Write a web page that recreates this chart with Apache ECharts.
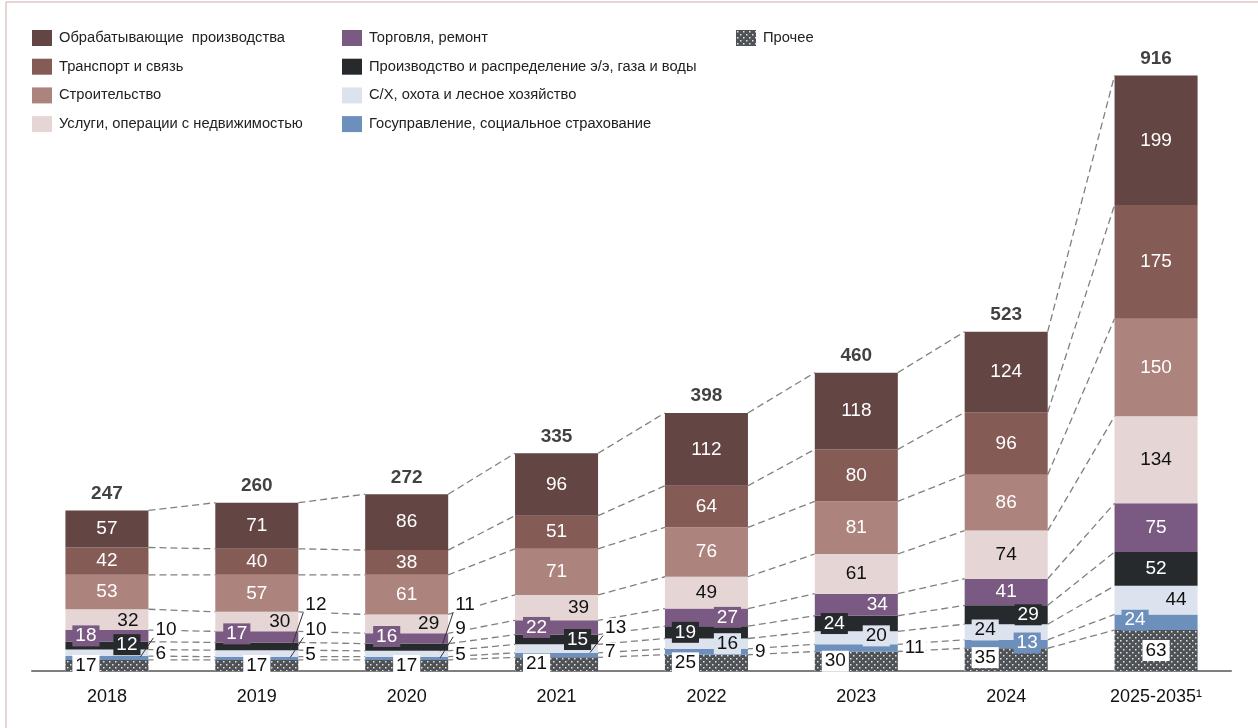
<!DOCTYPE html>
<html><head><meta charset="utf-8">
<script src="https://cdn.jsdelivr.net/npm/echarts@6/dist/echarts.min.js"></script>
<style>html,body{margin:0;padding:0;background:#fff}#c{width:1258px;height:728px}</style>
</head><body><div id="c"></div>
<script>
// ---------- DATA ----------
const CATEGORIES = ['2018','2019','2020','2021','2022','2023','2024','2025-2035\u00b9'];
const OTHER         = [17,17,17,21,25,30,35,63];
const GOV           = [6,5,5,7,9,11,13,24];
const AGRI          = [10,10,9,13,16,20,24,44];
const ENERGY        = [12,12,11,15,19,24,29,52];
const TRADE         = [18,17,16,22,27,34,41,75];
const SERVICES      = [32,30,29,39,49,61,74,134];
const CONSTRUCTION  = [53,57,61,71,76,81,86,150];
const TRANSPORT     = [42,40,38,51,64,80,96,175];
const MANUFACTURING = [57,71,86,96,112,118,124,199];
const TOTALS        = [247,260,272,335,398,460,523,916];

const NAMES = {
  other: 'Прочее',
  gov: 'Госуправление, социальное страхование',
  agri: 'С/Х, охота и лесное хозяйство',
  energy: 'Производство и распределение э/э, газа и воды',
  trade: 'Торговля, ремонт',
  services: 'Услуги, операции с недвижимостью',
  construction: 'Строительство',
  transport: 'Транспорт и связь',
  manufacturing: 'Обрабатывающие  производства'
};

// ---------- STYLE / LAYOUT ----------
const FONT = "'Liberation Sans', Arial, sans-serif";
const BAR_RATIO = 0.554;
const LABEL_SIZE = 19;

function makePattern() {
  const c = document.createElement('canvas');
  c.width = 6; c.height = 6;
  const g = c.getContext('2d');
  g.fillStyle = '#4f5357'; g.fillRect(0,0,6,6);
  g.fillStyle = '#e2e2e2';
  g.fillRect(1,1,1.5,1.5); g.fillRect(4,4,1.5,1.5);
  return c;
}
const PATTERN = { image: makePattern(), repeat: 'repeat' };

// bottom -> top
const STACK = [
  { key:'other', data: OTHER, color: PATTERN, box:'#ffffff', text:'#111' },
  { key:'gov', data: GOV, color:'#6d8fbc', box:'#6d8fbc', text:'#fff' },
  { key:'agri', data: AGRI, color:'#dce3ee', box:'#dce3ee', text:'#111' },
  { key:'energy', data: ENERGY, color:'#272a2d', box:'#272a2d', text:'#fff' },
  { key:'trade', data: TRADE, color:'#7a5a82', box:'#7a5a82', text:'#fff' },
  { key:'services', data: SERVICES, color:'#e5d6d5', box:'#e5d6d5', text:'#111' },
  { key:'construction', data: CONSTRUCTION, color:'#ad837e', box:'#ad837e', text:'#fff' },
  { key:'transport', data: TRANSPORT, color:'#855b56', box:'#855b56', text:'#fff' },
  { key:'manufacturing', data: MANUFACTURING, color:'#634543', box:'#634543', text:'#fff' }
];

// label placement per series / category: null = centred
const LABEL_LAYOUT = {
  other:  [{dx:-21,box:1},{box:1},{box:1},{dx:-20,box:1},{dx:-21,box:1},{dx:-21,box:1},{dx:-21,dy:-2,box:1},{box:1}],
  gov:    [{out:1,dy:-4},{out:1,dy:-4},{out:1,dy:-4},{out:1,dy:-3},{out:1,dy:0},{out:1,dy:0},{dx:21,dy:-1,box:1},{dx:-21,dy:-2,box:1}],
  agri:   [{out:1,dy:-23,lead:1},{out:1,dy:-24,lead:1},{out:1,dy:-25,lead:1},{out:1,dy:-21,lead:1},{dx:21,box:1},{dx:20,dy:-2,box:1},{dx:-21,dy:-2,box:1},{dx:20}],
  energy: [{dx:20,dy:-1,box:1},{out:1,dy:-42,lead:1},{out:1,dy:-43,lead:1},{dx:21,box:1},{dx:-21,box:1},{dx:-22,box:1},{dx:22,box:1},null],
  trade:  [{dx:-21,box:1},{dx:-20,dy:-3,box:1},{dx:-20,dy:-2,box:1},{dx:-20,box:1},{dx:21,box:1},{dx:21},null,null],
  services: [{dx:21,dy:1},{dx:23},{dx:22},{dx:22},null,null,null,null],
  construction: [null,null,null,null,null,null,null,null],
  transport: [null,null,null,null,null,null,null,null],
  manufacturing: [null,null,null,null,null,null,null,null]
};

function buildItem(s, v, lay) {
  const base = { show:true, fontFamily: FONT, fontSize: LABEL_SIZE, color: s.text };
  if (!lay) return { value: v, label: Object.assign(base, { position:'inside' }) };
  if (lay.out) {
    return { value: v, label: Object.assign(base, {
      position:'right', distance: 5, offset:[0, lay.dy || 0], color:'#111',
      backgroundColor:'#fff', padding:[0,2]
    })};
  }
  const l = Object.assign(base, { position:'inside', offset:[lay.dx || 0, lay.dy || 0] });
  if (lay.box) { l.backgroundColor = s.box; l.padding = [1,3]; }
  return { value: v, label: l };
}

const barSeries = STACK.map(s => ({
  name: NAMES[s.key],
  type: 'bar',
  stack: 'total',
  barWidth: (BAR_RATIO*100) + '%',
  z: 2,
  itemStyle: { color: s.color },
  emphasis: { disabled: true },
  data: s.data.map((v, i) => buildItem(s, v, LABEL_LAYOUT[s.key][i]))
}));

function cumAt(i, k) { let c = 0; for (let j = 0; j <= k; j++) c += STACK[j].data[i]; return c; }

const connectorSeries = {
  type: 'custom', z: 1, silent: true,
  data: CATEGORIES.slice(0, -1).map((c, i) => [i]),
  renderItem: function (params, api) {
    const i = api.value(0);
    const bw = api.size([1, 0])[0] * BAR_RATIO;
    const children = [];
    for (let k = 0; k < STACK.length; k++) {
      const a = api.coord([i, cumAt(i, k)]);
      const b = api.coord([i + 1, cumAt(i + 1, k)]);
      children.push({ type:'line', shape:{ x1:a[0]+bw/2, y1:a[1], x2:b[0]-bw/2, y2:b[1] },
        style:{ stroke:'#808080', lineWidth:1.3, lineDash:[7,4] } });
    }
    return { type:'group', children };
  }
};

const leaderSeries = {
  type: 'custom', z: 3, silent: true,
  data: CATEGORIES.map((c, i) => [i]),
  renderItem: function (params, api) {
    const i = api.value(0);
    const bw = api.size([1, 0])[0] * BAR_RATIO;
    const children = [];
    STACK.forEach((s, k) => {
      const lay = LABEL_LAYOUT[s.key][i];
      if (lay && lay.lead) {
        const lo = k > 0 ? cumAt(i, k - 1) : 0;
        const hi = cumAt(i, k);
        const p = api.coord([i, (lo + hi) / 2]);
        const xr = p[0] + bw / 2;
        children.push({ type:'line', shape:{ x1:xr-8, y1:p[1]+4, x2:xr+5, y2:p[1]+lay.dy+8 },
          style:{ stroke:'#333', lineWidth:1 } });
      }
    });
    return { type:'group', children };
  }
};

const totalSeries = {
  type: 'scatter', z: 4, symbolSize: 0, silent: true,
  data: TOTALS.map((t, i) => [i, t]),
  label: { show:true, position:'top', distance: 7, fontFamily: FONT, fontSize: 19, fontWeight:'bold', color:'#111',
    formatter: p => String(p.value[1]) }
};

const legendCommon = {
  orient:'vertical', icon:'rect', itemWidth:20, itemHeight:16, itemGap:12.7, selectedMode:false,
  textStyle:{ fontFamily: FONT, fontSize: 14.7, color:'#222', padding:[0,0,0,2] }
};

const option = {
  animation: false,
  backgroundColor: '#fff',
  grid: { left: 32, right: 27, top: 21, bottom: 57 },
  legend: [
    Object.assign({ left: 27, top: 25, data: [NAMES.manufacturing, NAMES.transport, NAMES.construction, NAMES.services] }, legendCommon),
    Object.assign({ left: 337, top: 25, data: [NAMES.trade, NAMES.energy, NAMES.agri, NAMES.gov] }, legendCommon),
    Object.assign({ left: 731, top: 25, data: [NAMES.other] }, legendCommon)
  ],
  xAxis: {
    type:'category', data: CATEGORIES,
    axisLine:{ show:true, lineStyle:{ color:'#7f7f7f', width:2 } },
    axisTick:{ show:false },
    axisLabel:{ fontFamily: FONT, fontSize: 18, color:'#111', margin: 17 }
  },
  yAxis: { type:'value', min:0, max:1000, show:false, splitLine:{ show:false } },
  graphic: [
    { type:'line', shape:{ x1:6, y1:2, x2:1258, y2:2 }, style:{ stroke:'#dcc6c6', lineWidth:1.5 } },
    { type:'line', shape:{ x1:6, y1:2, x2:6, y2:728 }, style:{ stroke:'#dcc6c6', lineWidth:1.5 } }
  ],
  series: [connectorSeries].concat(barSeries, [leaderSeries, totalSeries])
};

const chart = echarts.init(document.getElementById('c'), null, { renderer: 'canvas' });
chart.setOption(option);
</script>
</body></html>
